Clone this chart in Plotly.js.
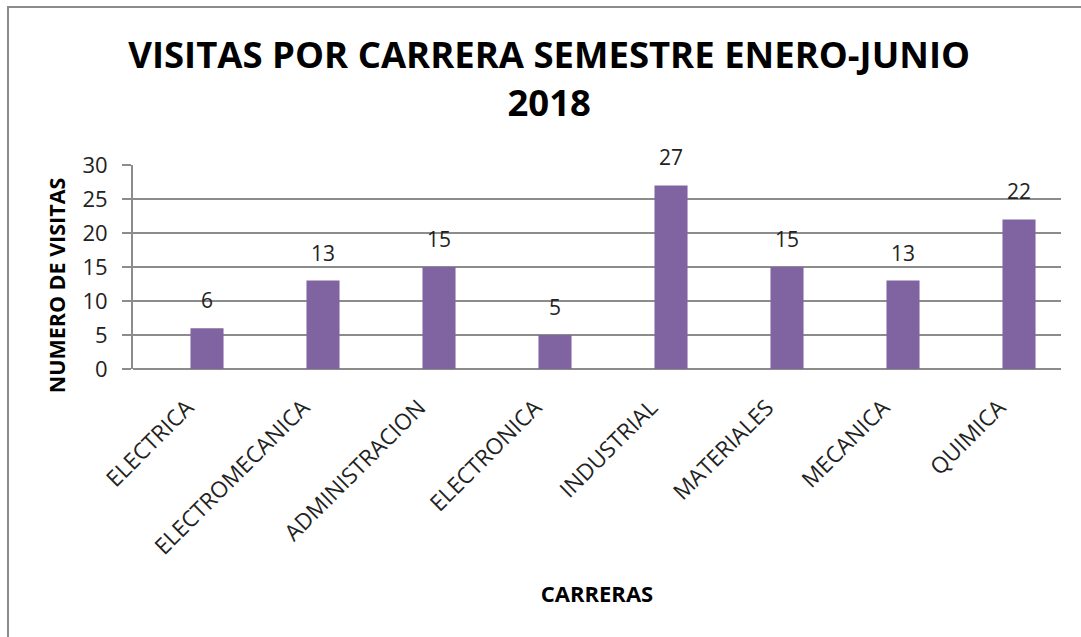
<!DOCTYPE html>
<html>
<head>
<meta charset="utf-8">
<script src="https://cdn.plot.ly/plotly-3.0.1.min.js"></script>
<style>
html,body{margin:0;padding:0;background:#fff;}
#wrap{position:relative;width:1081px;height:637px;overflow:hidden;}
#chart{position:absolute;left:0;top:0;width:1081px;height:637px;}
#frame{position:absolute;left:7px;top:6px;width:1090px;height:700px;border-left:2px solid #8c8c8c;border-top:2px solid #8c8c8c;pointer-events:none;}
</style>
</head>
<body>
<div id="wrap"><div id="chart"></div><div id="frame"></div></div>
<script>
const categories = ["ELECTRICA","ELECTROMECANICA","ADMINISTRACION","ELECTRONICA","INDUSTRIAL","MATERIALES","MECANICA","QUIMICA"];
const visitas = [6, 13, 15, 5, 27, 15, 13, 22];
const yTicks = [0, 5, 10, 15, 20, 25, 30];
const yTitle = 'NUMERO DE VISITAS';

const FONT = "'Open Sans', sans-serif";

const annotations = categories.map((c, i) => ({
  x: c, y: visitas[i], xref: 'x', yref: 'y',
  text: String(visitas[i]), showarrow: false,
  yanchor: 'middle', yshift: 28,
  font: {family: FONT, size: 21, color: '#222'}
}));
// y-axis title, placed slightly below the plot's middle as in the reference
annotations.push({
  text: yTitle, textangle: -90, showarrow: false,
  xref: 'paper', yref: 'paper', x: -0.083, y: 0.41,
  xanchor: 'center', yanchor: 'middle',
  font: {family: FONT, size: 21.5, color: '#000', weight: 'bold'}
});

const data = [{
  type: 'bar',
  x: categories,
  y: visitas,
  width: 0.285,
  marker: {color: '#8064A2', line: {width: 0}},
  hoverinfo: 'x+y'
}];

const layout = {
  width: 1081, height: 637,
  margin: {l: 133, r: 20, t: 165, b: 268},
  paper_bgcolor: '#ffffff', plot_bgcolor: '#ffffff',
  showlegend: false,
  title: {
    text: 'VISITAS POR CARRERA SEMESTRE ENERO-JUNIO<br>2018',
    font: {family: FONT, size: 36.5, color: '#000', weight: 'bold'},
    xref: 'container', x: 0.508, xanchor: 'center',
    yref: 'container', y: 0.893, yanchor: 'middle'
  },
  xaxis: {
    type: 'category',
    range: [-0.638, 7.362],
    tickangle: -45,
    tickfont: {family: FONT, size: 22.5, color: '#222'},
    ticklabelstandoff: 20,
    ticklabelshift: -20,
    showgrid: false, showline: false, zeroline: false,
    ticks: '',
    title: {text: 'CARRERAS', font: {family: FONT, size: 22, color: '#000', weight: 'bold'}, standoff: 26}
  },
  yaxis: {
    range: [0, 30],
    tickvals: yTicks,
    ticktext: yTicks.map(String),
    tickfont: {family: FONT, size: 22, color: '#222'},
    ticklabelstandoff: 10,
    showgrid: true, gridcolor: '#8c8c8c', gridwidth: 2,
    showline: true, linecolor: '#8c8c8c', linewidth: 2,
    zeroline: true, zerolinecolor: '#8c8c8c', zerolinewidth: 2,
    ticks: 'outside', ticklen: 9, tickcolor: '#8c8c8c', tickwidth: 2
  },
  annotations: annotations
};

Plotly.newPlot('chart', data, layout, {displayModeBar: false, staticPlot: true});
</script>
</body>
</html>
